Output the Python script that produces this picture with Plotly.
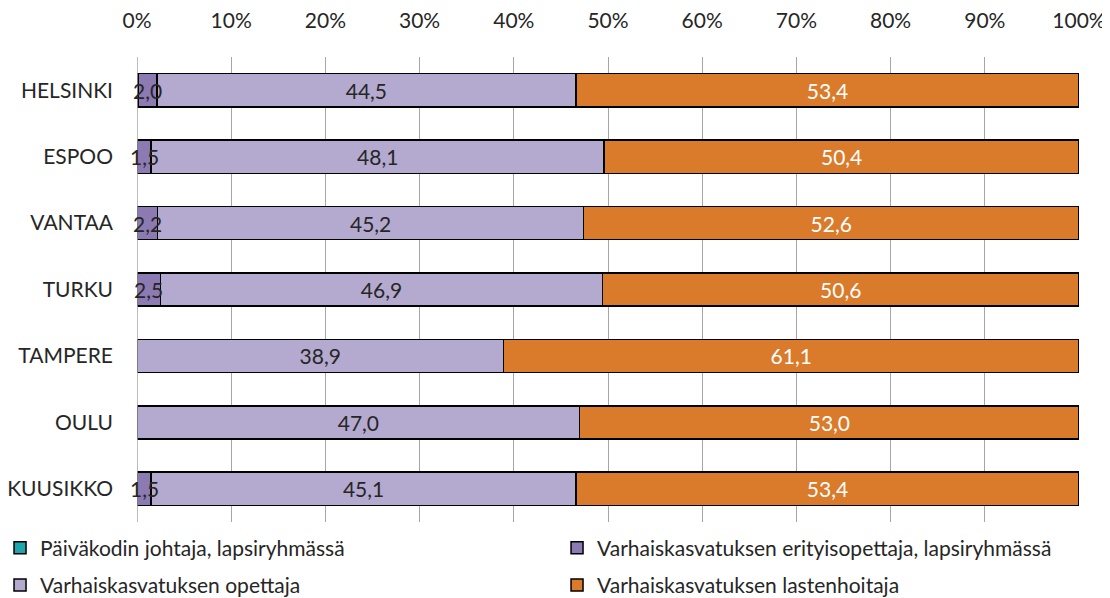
import plotly.graph_objects as go

categories = ["HELSINKI", "ESPOO", "VANTAA", "TURKU", "TAMPERE", "OULU", "KUUSIKKO"]
johtaja = [0.1, 0, 0, 0, 0, 0, 0]
erityisopettaja = [2.0, 1.5, 2.2, 2.5, 0, 0, 1.5]
opettaja = [44.5, 48.1, 45.2, 46.9, 38.9, 47.0, 45.1]
lastenhoitaja = [53.4, 50.4, 52.6, 50.6, 61.1, 53.0, 53.4]

series = [
    ("Päiväkodin johtaja, lapsiryhmässä", johtaja, "#1FA5AC", False, "black", "legend"),
    ("Varhaiskasvatuksen erityisopettaja, lapsiryhmässä", erityisopettaja, "#8C7AB3", False, "#262626", "legend2"),
    ("Varhaiskasvatuksen opettaja", opettaja, "#B4A9CE", True, "#262626", "legend"),
    ("Varhaiskasvatuksen lastenhoitaja", lastenhoitaja, "#D97B2B", True, "white", "legend2"),
]


def fmt(v):
    return ("%.1f" % v).replace(".", ",")


FONT = "Lato"
FS = 21
fig = go.Figure()
for i, (name, vals, color, lab, tcol, lg) in enumerate(series):
    texts = [fmt(v) if (lab and v > 0) else "" for v in vals]
    fig.add_trace(go.Bar(
        y=categories, x=vals, name=name, orientation="h", legend=lg,
        legendgroup="g%d" % i,
        marker=dict(color=color, line=dict(color="black", width=1.5)),
        text=texts, textposition="inside", insidetextanchor="middle", textangle=0,
        textfont=dict(family=FONT, size=FS, color=tcol),
        constraintext="none", cliponaxis=False,
    ))

# labels of the narrow erityisopettaja segments, drawn on top of the bars
for cat, j, e in zip(categories, johtaja, erityisopettaja):
    if e > 0:
        fig.add_annotation(x=j + e / 2, y=cat, xref="x", yref="y", text=fmt(e),
                           showarrow=False, font=dict(family=FONT, size=FS, color="#262626"))

legfont = dict(family=FONT, size=FS, color="#262626")
fig.update_layout(
    barmode="stack", bargap=0.5,
    width=1102, height=590,
    margin=dict(l=129, r=31, t=49, b=76, autoexpand=False),
    paper_bgcolor="white", plot_bgcolor="white",
    font=dict(family=FONT, size=FS, color="#262626"),
    uniformtext=dict(minsize=FS, mode="show"),
    showlegend=True,
    legend=dict(orientation="v", x=-0.1454, y=-0.012, xanchor="left", yanchor="top",
                font=legfont, itemwidth=30, tracegroupgap=7, bgcolor="rgba(0,0,0,0)"),
    legend2=dict(orientation="v", x=0.4459, y=-0.012, xanchor="left", yanchor="top",
                 font=legfont, itemwidth=30, tracegroupgap=7, bgcolor="rgba(0,0,0,0)"),
    xaxis=dict(side="top", range=[0, 100], dtick=10, ticksuffix="%",
               showgrid=True, gridcolor="#A6A6A6", gridwidth=1, zeroline=False,
               showline=False, tickfont=dict(family=FONT, size=FS, color="#262626"),
               ticklabelstandoff=24, fixedrange=True),
    yaxis=dict(autorange="reversed", showline=False, ticks="",
               tickfont=dict(family=FONT, size=FS, color="#262626"),
               ticklabelstandoff=23, fixedrange=True),
)
# left axis line at 0%
fig.add_shape(type="line", xref="x", yref="paper", x0=0, x1=0, y0=0, y1=1,
              line=dict(color="#A6A6A6", width=1.5))

fig.write_html("out.html")
